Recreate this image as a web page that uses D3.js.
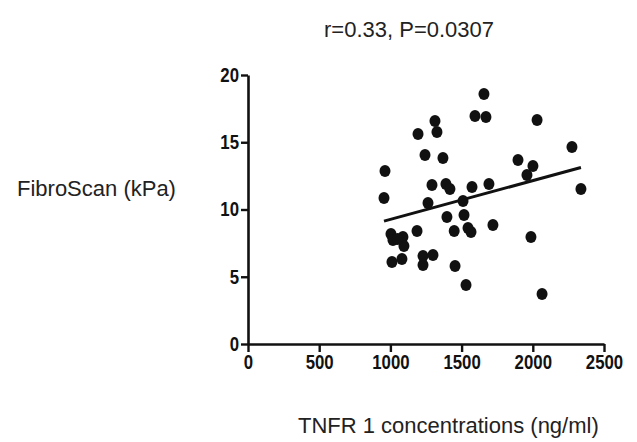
<!DOCTYPE html>
<html><head><meta charset="utf-8">
<script src="https://cdn.jsdelivr.net/npm/d3@7"></script>
<style>body{margin:0;background:#fff}svg{display:block}</style>
</head><body>
<script>
const tnfr = [962,955,1194,1313,1327,1243,1369,1657,1594,1671,2030,2275,1896,2001,1959,1573,1692,2338,1292,1390,1418,1264,1510,1397,1517,1545,1566,1187,1448,1720,1987,2065,1531,1011,1081,1229,1229,1299,1454,1004,1018,1088,1095,1050];
const fibro = [12.86,10.85,15.61,16.58,15.76,14.05,13.83,18.59,16.95,16.88,16.65,14.65,13.68,13.23,12.57,11.67,11.9,11.52,11.82,11.9,11.52,10.48,10.63,9.44,9.59,8.62,8.33,8.4,8.4,8.85,7.96,3.72,4.39,6.1,6.32,6.54,5.87,6.62,5.8,8.18,7.73,7.96,7.29,7.8];
const fit = {intercept: 6.38, slope: 0.002885};
const xTicks = [0,500,1000,1500,2000,2500];
const yTicks = [0,5,10,15,20];
const title = "r=0.33, P=0.0307";
const xLabel = "TNFR 1 concentrations (ng/ml)";
const yLabel = "FibroScan (kPa)";

const W = 637, H = 442;
const svg = d3.select("body").append("svg").attr("width", W).attr("height", H);
const x = d3.scaleLinear().domain([0,2500]).range([248,604]);
const y = d3.scaleLinear().domain([0,20]).range([344,75]);
const font = "'Liberation Sans', Arial, sans-serif";

const gx = svg.append("g").attr("transform","translate(0,344)")
  .call(d3.axisBottom(x).tickValues(xTicks).tickSize(8).tickSizeOuter(0).tickPadding(3).tickFormat(d3.format("d")));
const gy = svg.append("g").attr("transform","translate(248,0)")
  .call(d3.axisLeft(y).tickValues(yTicks).tickSize(7).tickSizeOuter(0).tickPadding(2).tickFormat(d3.format("d")));
[gx,gy].forEach(g=>{
  g.select(".domain").attr("stroke","#111").attr("stroke-width",2.6);
  g.selectAll(".tick line").attr("stroke","#111").attr("stroke-width",2.4);
  g.selectAll(".tick text").attr("fill","#111").style("font-family",font).style("font-weight","bold").style("font-size","20px")
    .each(function(){ const w = this.getComputedTextLength(); d3.select(this).attr("textLength", w*0.84).attr("lengthAdjust","spacingAndGlyphs"); });
});

const xs = d3.extent(tnfr);
svg.append("line")
  .attr("x1", x(xs[0])).attr("y1", y(fit.intercept + fit.slope*xs[0]))
  .attr("x2", x(xs[1])).attr("y2", y(fit.intercept + fit.slope*xs[1]))
  .attr("stroke","#111").attr("stroke-width",3);

svg.append("g").selectAll("ellipse").data(tnfr.map((d,i)=>[d,fibro[i]])).join("ellipse")
  .attr("cx", d=>x(d[0])).attr("cy", d=>y(d[1])).attr("rx",5.5).attr("ry",6).attr("fill","#111");

svg.append("text").attr("x",409).attr("y",37).attr("text-anchor","middle")
  .style("font-family",font).style("font-size","22px").attr("fill","#222").text(title);
svg.append("text").attr("x",17).attr("y",196)
  .style("font-family",font).style("font-size","22px").attr("fill","#222").text(yLabel);
svg.append("text").attr("x",298).attr("y",433)
  .style("font-family",font).style("font-size","22px").attr("fill","#222").text(xLabel);
</script>
</body></html>
